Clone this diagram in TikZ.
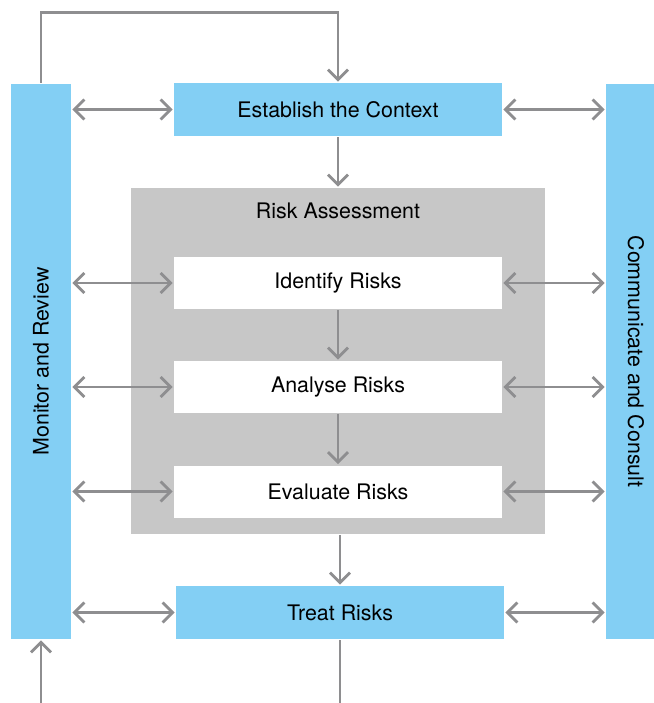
\documentclass[tikz,border=0pt]{standalone}
\usepackage{fontspec}
\setmainfont{TeX Gyre Heros}
\usetikzlibrary{arrows.meta}
\definecolor{barblue}{HTML}{83CFF4}
\definecolor{boxgray}{HTML}{C7C7C7}
\definecolor{linegray}{HTML}{8E8E90}

\begin{document}
\begin{tikzpicture}[x=1pt,y=-1pt,line width=2.8pt,
  >={Straight Barb[length=10pt,width=20pt]},
  every node/.style={font=\fontsize{21.4}{25}\selectfont,inner sep=0pt},
  every edge/.style={draw=linegray,line width=2.8pt},
  step node/.style={rectangle,fill=white,minimum width=328pt,minimum height=52pt},
  main node/.style={step node,fill=barblue,minimum height=53pt},
  side bar/.style={rectangle,fill=barblue,minimum width=60pt,minimum height=555pt}]

  \useasboundingbox (0,0) rectangle (653,703);

  % side bars
  \node[side bar] (mon) at (41,361.5) {\rotatebox{90}{Monitor and Review}};
  \node[side bar] (com) at (636,361.5) {\rotatebox{-90}{Communicate and Consult}};

  % main steps
  \node[main node] (ctx) at (338,109.5) {Establish the Context};
  \node[rectangle,fill=boxgray,minimum width=414pt,minimum height=346pt] (ra) at (338,361) {};
  \node (ratitle) at (338,211) {Risk Assessment};
  \node[step node] (ident) at (338,283) {Identify Risks};
  \node[step node] (anal) at (338,387) {Analyse Risks};
  \node[step node] (eval) at (338,491.5) {Evaluate Risks};
  \node[main node] (treat) at (340,612.5) {Treat Risks};

  \coordinate (monin) at (41,703);
  \coordinate (out) at (340,703);

  % flow
  \path (ctx) edge[->] (ra)
        (ident) edge[->] (anal)
        (anal) edge[->] (eval)
        (ra.south -| treat) edge[->] (treat)
        (treat.south) edge (out)
        (monin) edge[->] (mon.south);
  \draw[linegray,->] (mon.north) -- ++(0,-70) -| (ctx.north);

  % links to the side bars
  \path (mon.east |- ctx) edge[<->] (ctx.west)
        (mon.east |- ident) edge[<->] (ident.west)
        (mon.east |- anal) edge[<->] (anal.west)
        (mon.east |- eval) edge[<->] (eval.west)
        (mon.east |- treat) edge[<->] (treat.west)
        (ctx.east) edge[<->] (com.west |- ctx)
        (ident.east) edge[<->] (com.west |- ident)
        (anal.east) edge[<->] (com.west |- anal)
        (eval.east) edge[<->] (com.west |- eval)
        (treat.east) edge[<->] (com.west |- treat);
\end{tikzpicture}
\end{document}
